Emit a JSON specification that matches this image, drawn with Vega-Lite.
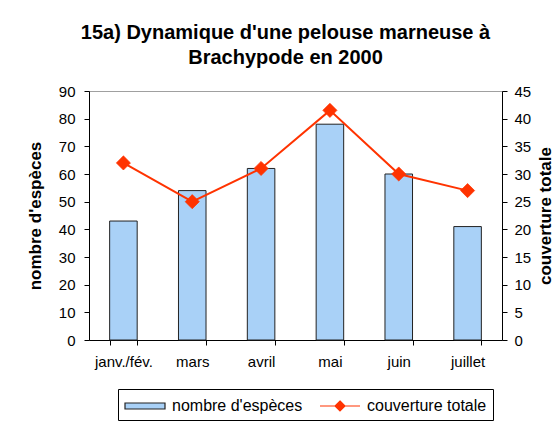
{
  "$schema": "https://vega.github.io/schema/vega-lite/v6.json",
  "width": 413,
  "height": 249,
  "autosize": {"type": "none"},
  "padding": {"left": 89, "top": 91, "right": 56, "bottom": 89},
  "background": "white",
  "config": {
    "font": "Liberation Sans",
    "view": {"stroke": "#a0a0a0", "strokeWidth": 1},
    "axis": {
      "domainColor": "black",
      "tickColor": "black",
      "labelColor": "black",
      "titleColor": "black",
      "labelFontSize": 15,
      "titleFontSize": 17,
      "titleFontWeight": "bold",
      "tickSize": 5,
      "grid": false
    },
    "legend": {
      "orient": "none",
      "legendX": 29,
      "legendY": 298,
      "direction": "horizontal",
      "strokeColor": "black",
      "padding": 6,
      "labelFontSize": 16,
      "labelColor": "black",
      "labelOffset": 26,
      "columnPadding": 14,
      "symbolSize": 400,
      "symbolStrokeWidth": 1.2
    }
  },
  "title": {
    "text": ["15a) Dynamique d'une pelouse marneuse à", "Brachypode en 2000"],
    "fontSize": 20,
    "fontWeight": "bold",
    "color": "black",
    "anchor": "middle",
    "lineHeight": 25,
    "offset": 16,
    "dx": -10
  },
  "data": {
    "values": [
      {"mois": "janv./fév.", "especes": 43, "couverture": 32},
      {"mois": "mars", "especes": 54, "couverture": 25},
      {"mois": "avril", "especes": 62, "couverture": 31},
      {"mois": "mai", "especes": 78, "couverture": 41.5},
      {"mois": "juin", "especes": 60, "couverture": 30},
      {"mois": "juillet", "especes": 41, "couverture": 27}
    ]
  },
  "encoding": {
    "x": {
      "field": "mois",
      "type": "nominal",
      "sort": null,
      "scale": {"paddingInner": 0.6, "paddingOuter": 0.3},
      "axis": {
        "title": null,
        "labelAngle": 0,
        "tickBand": "extent",
        "labelPadding": 9
      }
    }
  },
  "layer": [
    {
      "mark": {"type": "bar", "strokeWidth": 1},
      "encoding": {
        "y": {
          "field": "especes",
          "type": "quantitative",
          "scale": {"domain": [0, 90], "nice": false},
          "axis": {
            "orient": "left",
            "values": [0, 10, 20, 30, 40, 50, 60, 70, 80, 90],
            "title": "nombre d'espèces",
            "labelPadding": 9,
            "titlePadding": 14
          }
        },
        "fill": {
          "datum": "nombre d'espèces",
          "scale": {"domain": ["nombre d'espèces", "couverture totale"], "range": ["#a9d1f7", "#ff3300"]},
          "legend": {
            "title": null,
            "encode": {
              "symbols": {
                "update": {
                  "shape": {"signal": "datum.value === 'couverture totale' ? 'M-1,0H3M1,-0.5L1.5,0L1,0.5L0.5,0Z' : 'M-1,-0.3H3V0.3H-1Z'"}
                }
              }
            }
          }
        },
        "stroke": {
          "datum": "nombre d'espèces",
          "scale": {"domain": ["nombre d'espèces", "couverture totale"], "range": ["#222222", "#ff3300"]},
          "legend": {
            "title": null,
            "encode": {
              "symbols": {
                "update": {
                  "shape": {"signal": "datum.value === 'couverture totale' ? 'M-1,0H3M1,-0.5L1.5,0L1,0.5L0.5,0Z' : 'M-1,-0.3H3V0.3H-1Z'"}
                }
              }
            }
          }
        }
      }
    },
    {
      "mark": {
        "type": "line",
        "strokeWidth": 2,
        "point": {"shape": "diamond", "size": 200, "filled": true, "fill": "#ff3300", "strokeWidth": 0.7, "opacity": 1}
      },
      "encoding": {
        "y": {
          "field": "couverture",
          "type": "quantitative",
          "scale": {"domain": [0, 45], "nice": false},
          "axis": {
            "orient": "right",
            "values": [0, 5, 10, 15, 20, 25, 30, 35, 40, 45],
            "title": "couverture totale",
            "titleAngle": 270,
            "labelPadding": 7,
            "titlePadding": 24
          }
        },
        "stroke": {
          "datum": "couverture totale",
          "legend": {
            "title": null,
            "encode": {
              "symbols": {
                "update": {
                  "shape": {"signal": "datum.value === 'couverture totale' ? 'M-1,0H3M1,-0.5L1.5,0L1,0.5L0.5,0Z' : 'M-1,-0.3H3V0.3H-1Z'"}
                }
              }
            }
          }
        }
      }
    }
  ],
  "resolve": {"scale": {"y": "independent"}}
}
